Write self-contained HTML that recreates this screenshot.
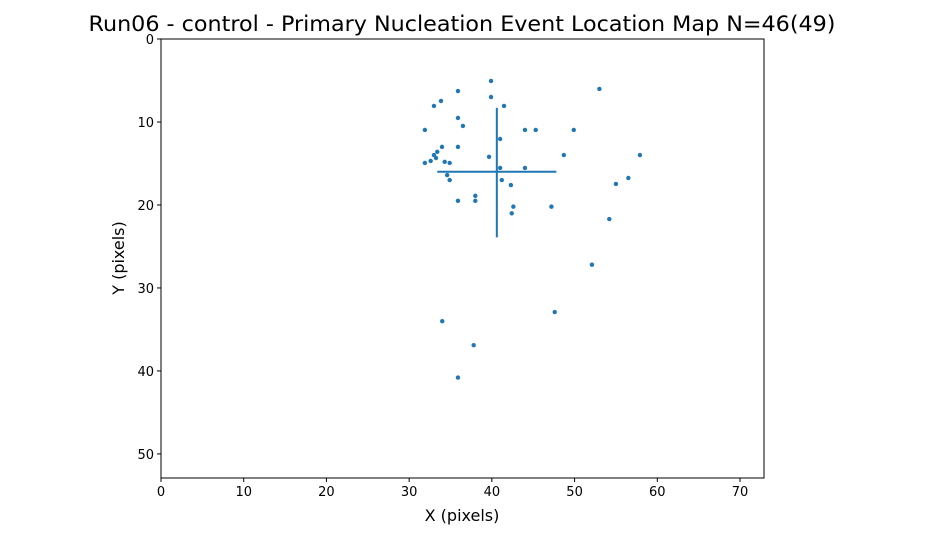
<!DOCTYPE html>
<html><head><meta charset="utf-8"><style>
body{margin:0;background:#fff;font-family:"DejaVu Sans","Liberation Sans",sans-serif}
</style></head><body>
<svg id="chart" width="925" height="540" xmlns="http://www.w3.org/2000/svg" font-family="DejaVu Sans, Liberation Sans, sans-serif">
<rect width="925" height="540" fill="#fff"/>
<text x="462" y="31" font-size="21" text-anchor="middle" textLength="747" lengthAdjust="spacingAndGlyphs">Run06 - control - Primary Nucleation Event Location Map N=46(49)</text>
<g id="plot"></g>
<text x="462" y="521" font-size="16" text-anchor="middle">X (pixels)</text>
<text x="124" y="258" font-size="16" text-anchor="middle" transform="rotate(-90 124 258)">Y (pixels)</text>
</svg>
<script>
const xs=[39.9,35.9,33.85,33.0,39.9,41.47,35.9,36.5,31.9,44.0,45.3,49.9,53.0,41.0,33.97,35.9,33.4,33.0,33.25,39.66,48.7,57.9,31.9,32.6,34.3,34.9,41.0,44.0,34.6,34.9,41.2,42.3,56.5,55.0,35.9,38.0,38.0,42.6,42.4,47.2,54.2,52.1,34.0,47.6,37.8,35.9];
const ys=[5.06,6.27,7.47,8.07,6.99,8.07,9.52,10.48,10.96,10.96,10.96,10.96,6.02,12.05,13.0,13.0,13.6,13.98,14.34,14.2,13.98,13.98,14.94,14.7,14.8,14.94,15.54,15.54,16.4,17.0,17.0,17.6,16.75,17.47,19.5,18.9,19.5,20.2,21.0,20.2,21.7,27.2,34.0,32.9,36.9,40.8];
const crossCenter=[40.6,16.0];
const crossX=[33.4,47.8];
const crossY=[8.3,23.9];
const xTicks=[0,10,20,30,40,50,60,70];
const yTicks=[0,10,20,30,40,50];
const X0=161,X1=764,Y0=39,Y1=478,XMAX=72.9,YMAX=52.9;
const sx=v=>X0+v/XMAX*(X1-X0), sy=v=>Y0+v/YMAX*(Y1-Y0);
const NS="http://www.w3.org/2000/svg", g=document.getElementById('plot');
function mk(t,a){const e=document.createElementNS(NS,t);for(const k in a)e.setAttribute(k,a[k]);g.appendChild(e);return e;}
let r=mk('rect',{x:X0,y:Y0,width:X1-X0,height:Y1-Y0,fill:'none',stroke:'#000','stroke-width':1});


xTicks.forEach(t=>{const x=sx(t);
 let l=mk('line',{x1:x,x2:x,y1:Y1,y2:Y1+4,stroke:'#000'});
 
 
 let tx=mk('text',{x:x,y:Y1+18,'font-size':13,'text-anchor':'middle'});tx.textContent=t;
 
 });
yTicks.forEach(t=>{const y=sy(t);
 let l=mk('line',{x1:X0-4,x2:X0,y1:y,y2:y,stroke:'#000'});
 
 
 let tx=mk('text',{x:X0-7,y:y+5,'font-size':13,'text-anchor':'end'});tx.textContent=t;
 
 });
xs.forEach((v,i)=>{let c=mk('circle',{cx:sx(v),cy:sy(ys[i]),r:2.2,fill:'#1f77b4'});
 
 });
let h=mk('line',{x1:sx(crossX[0]),x2:sx(crossX[1]),y1:sy(crossCenter[1]),y2:sy(crossCenter[1]),stroke:'#1f77b4','stroke-width':2});


let v=mk('line',{x1:sx(crossCenter[0]),x2:sx(crossCenter[0]),y1:sy(crossY[0]),y2:sy(crossY[1]),stroke:'#1f77b4','stroke-width':2});


</script>
</body></html>
